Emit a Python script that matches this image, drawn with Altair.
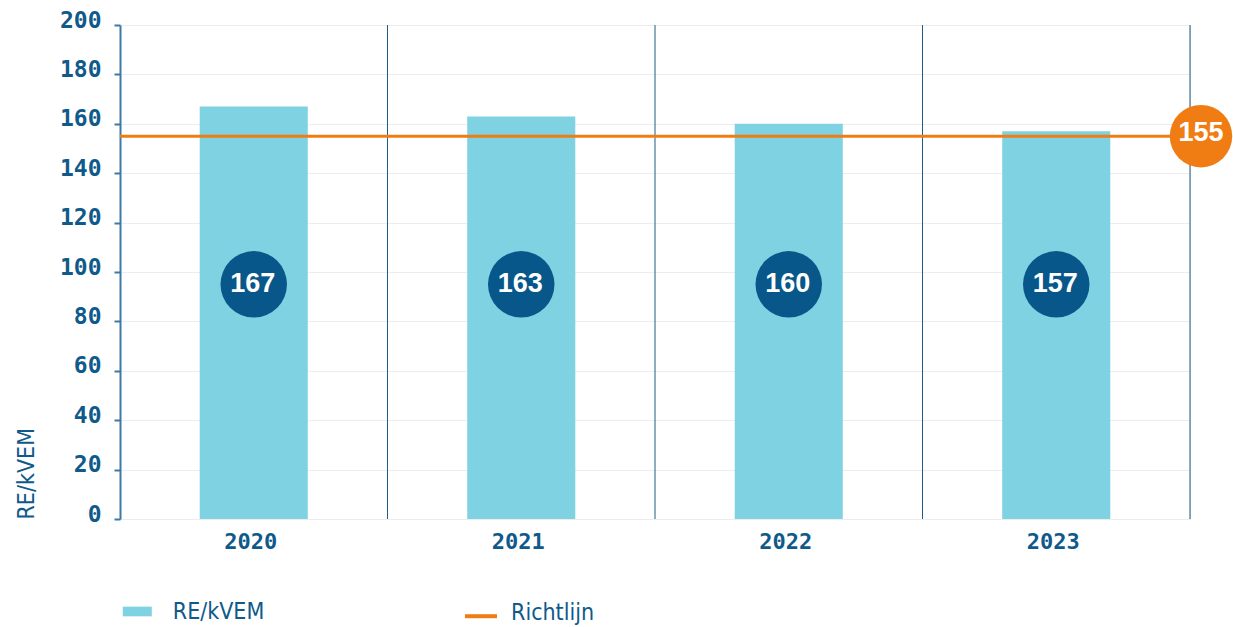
import altair as alt
import pandas as pd

# ---- data ----
years = ["2020", "2021", "2022", "2023"]
re_kvem = [167, 163, 160, 157]
richtlijn = 155
y_ticks = [0, 20, 40, 60, 80, 100, 120, 140, 160, 180, 200]
series_bar = "RE/kVEM"
series_line = "Richtlijn"
y_title = "RE/kVEM"

df = pd.DataFrame({"year": years, "value": re_kvem, "serie": [series_bar] * len(years)})
ref = pd.DataFrame({"year": [years[-1]], "value": [richtlijn], "serie": [series_line]})

# ---- style ----
TXT = "#0f5a8a"
NUM_FONT = "DejaVu Sans Mono"
TXT_FONT = "Liberation Sans Narrow, DejaVu Sans Condensed, sans-serif"
BAR = "#7fd2e1"
DARK = "#07578a"
ORANGE = "#f07d13"
LABEL_Y = 95

x_scale = alt.Scale(domain=years, paddingInner=0, paddingOuter=0)
y_scale = alt.Scale(domain=[0, 200], nice=False)

x_enc = alt.X(
    "year:N", scale=x_scale,
    axis=alt.Axis(title=None, domain=False, ticks=False, labelAngle=0, labelPadding=12,
                  labelFontSize=22, labelColor=TXT, labelFont=NUM_FONT, labelFontWeight="bold",
                  labelOffset=-3, grid=False),
)
y_enc = alt.Y(
    "value:Q", scale=y_scale,
    axis=alt.Axis(values=y_ticks, title=y_title, domainColor="#3d79a6", domainWidth=2,
                  tickColor="#3d79a6", tickSize=6, tickWidth=2, labelPadding=13,
                  labelBaseline="alphabetic", labelOffset=2, labelFontSize=23,
                  labelFontWeight="bold",
                  labelColor=TXT, labelFont=NUM_FONT, grid=True, gridColor="#ededed",
                  gridWidth=1, titleX=-94, titleY=494, titleAngle=270, titleAlign="left",
                  titleBaseline="middle", titleFont=TXT_FONT, titleFontSize=23,
                  titleFontWeight="normal", titleColor=TXT),
)

bars = alt.Chart(df).mark_bar(width={"band": 0.404}).encode(
    x=x_enc, y=y_enc,
    color=alt.Color("serie:N", scale=alt.Scale(domain=[series_bar], range=[BAR]),
                    legend=alt.Legend(orient="none", legendX=5.8, legendY=575, title=None,
                                      symbolType="M-1.5,-0.5H1.5V0.5H-1.5Z", symbolSize=374,
                                      symbolOpacity=1, labelFont=TXT_FONT, labelFontSize=23,
                                      labelColor=TXT, labelOffset=24, padding=0)),
)

vlines = alt.Chart(df).mark_rule(color="#1d5d8c", strokeWidth=1).encode(
    x=alt.X("year:N", bandPosition=1, scale=x_scale),
)

line = alt.Chart(ref).mark_rule(strokeWidth=3).encode(
    y=alt.Y("value:Q", scale=y_scale),
    stroke=alt.Stroke("serie:N", scale=alt.Scale(domain=[series_line], range=[ORANGE]),
                      legend=alt.Legend(orient="none", legendX=343, legendY=570, title=None,
                                        symbolType="M-1,0.2L1,0.2", symbolSize=1024,
                                        symbolStrokeWidth=4, symbolFillColor="transparent",
                                        labelFont=TXT_FONT,
                                        labelFontSize=23, labelColor=TXT, labelOffset=12,
                                        padding=0)),
)

circles = alt.Chart(df).mark_circle(size=4420, color=DARK, opacity=1).encode(
    x=alt.X("year:N", scale=x_scale), y=alt.datum(LABEL_Y),
)
circle_text = alt.Chart(df).mark_text(font="Liberation Sans", fontWeight="bold", fontSize=27,
                                      color="white", baseline="middle", xOffset=-1).encode(
    x=alt.X("year:N", scale=x_scale), y=alt.datum(LABEL_Y), text="value:Q",
)

ref_circle = alt.Chart(ref).mark_circle(size=3900, color=ORANGE, opacity=1, xOffset=11).encode(
    x=alt.X("year:N", bandPosition=1, scale=x_scale), y=alt.Y("value:Q", scale=y_scale),
)
ref_text = alt.Chart(ref).mark_text(font="Liberation Sans", fontWeight="bold", fontSize=27,
                                    color="white", baseline="middle", xOffset=11, yOffset=-3).encode(
    x=alt.X("year:N", bandPosition=1, scale=x_scale), y=alt.Y("value:Q", scale=y_scale),
    text="value:Q",
)

chart = alt.layer(bars, vlines, line, circles, circle_text, ref_circle, ref_text).properties(
    width=1070, height=494,
    autosize=alt.AutoSizeParams(type="none"),
    padding={"left": 120, "top": 25, "right": 43, "bottom": 108},
).configure_view(stroke=None).configure(background="white")

chart.save("out.html", embed_options={"renderer": "svg", "actions": False})
